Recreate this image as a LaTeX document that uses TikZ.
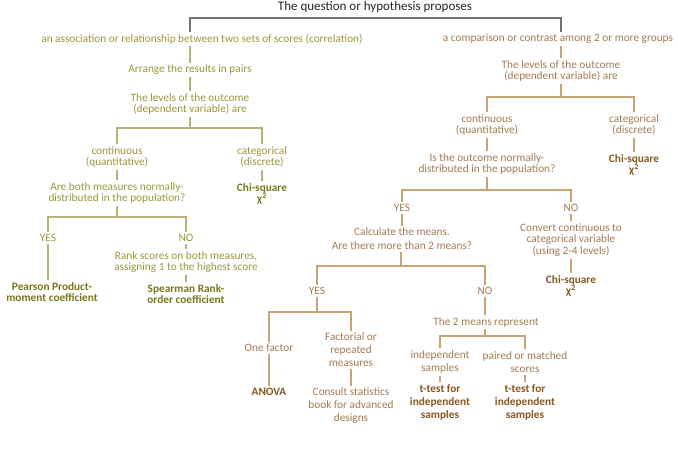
\documentclass[tikz,border=0pt]{standalone}
\usepackage{fontspec}
\setmainfont{Carlito}
\usepackage{xcolor}
\usepackage{tikz}
\usetikzlibrary{calc}
\definecolor{olivetext}{HTML}{9C963A}
\definecolor{olivebold}{HTML}{7A7518}
\definecolor{oliveline}{HTML}{B8B278}
\definecolor{browntext}{HTML}{A27A52}
\definecolor{brownbold}{HTML}{85561E}
\definecolor{brownline}{HTML}{C9A275}
\tikzset{
  every node/.style={font=\fontsize{11.3}{11.6}\selectfont, align=center, inner sep=2pt},
  otext/.style={text=olivetext},
  obold/.style={text=olivebold, font=\fontsize{11.3}{11.6}\selectfont\bfseries},
  oline/.style={draw=oliveline, line width=1.2pt},
  btext/.style={text=browntext},
  bbold/.style={text=brownbold, font=\fontsize{11.3}{11.6}\selectfont\bfseries},
  bline/.style={draw=brownline, line width=1.2pt},
  topline/.style={draw=black!55, line width=1.2pt}
}

\begin{document}
\begin{tikzpicture}[x=1pt, y=-1pt]
\useasboundingbox (0,0) rectangle (678,454);

% 1. Question
\node[font=\fontsize{13}{14}\selectfont, text=black!85] (title) at (375,7) {The question or hypothesis proposes};
\coordinate (j0) at (375,18);

% 2. Correlation branch
\node[otext] (assoc) at (202,39) {an association or relationship between two sets of scores (correlation)};
\node[otext] (pairs) at (190,70) {Arrange the results in pairs};
\node[otext] (levL) at (190,104) {The levels of the outcome\\(dependent variable) are};
\coordinate (jL1) at (190,128);
\node[otext] (contL) at (117,157) {continuous\\(quantitative)};
\node[otext] (catL) at (262,157) {categorical\\(discrete)};
\node[otext] (normL) at (117,193) {Are both measures normally-\\distributed in the population?};
\node[obold] (chiL) at (262,194) {Chi-square\\χ\textsuperscript{2}};
\coordinate (jL2) at (117,217);
\node[otext] (yesL) at (48,238) {YES};
\node[otext] (noL) at (186,238) {NO};
\node[obold] (pearson) at (52,292) {Pearson Product-\\moment coefficient};
\node[otext] (rankL) at (186,262) {Rank scores on both measures,\\assigning 1 to the highest score};
\node[obold] (spear) at (186,294) {Spearman Rank-\\order coefficient};

% 3. Comparison branch
\node[btext] (compare) at (558,39) {a comparison or contrast among 2 or more groups};
\node[btext] (levR) at (561,71) {The levels of the outcome\\(dependent variable) are};
\coordinate (jR1) at (561,97);
\node[btext] (contR) at (487,125) {continuous\\(quantitative)};
\node[btext] (catR) at (634,125) {categorical\\(discrete)};
\node[btext] (normR) at (487,164) {Is the outcome normally-\\distributed in the population?};
\node[bbold] (chiR) at (634,165) {Chi-square\\χ\textsuperscript{2}};
\coordinate (jR2) at (487,190);
\node[btext] (yesR) at (402,208) {YES};
\node[btext] (noR) at (571,208) {NO};
\node[btext, font=\fontsize{11.3}{14}\selectfont] (means) at (402,239) {Calculate the means.\\Are there more than 2 means?};
\node[btext] (convert) at (571,240) {Convert continuous to\\categorical variable\\(using 2-4 levels)};
\node[bbold] (chiR2) at (571,286) {Chi-square\\χ\textsuperscript{2}};
\coordinate (jR3) at (401,266);
\node[btext] (yes2) at (317,291) {YES};
\node[btext] (no2) at (485,291) {NO};
\coordinate (jR4) at (317,312);
\node[btext] (onef) at (269,348) {One factor};
\node[btext, font=\fontsize{11.3}{13}\selectfont] (fact) at (351,350) {Factorial or\\repeated\\measures};
\node[bbold] (anova) at (269,392) {ANOVA};
\node[btext, font=\fontsize{11.3}{13}\selectfont] (consult) at (351,406) {Consult statistics\\book for advanced\\designs};
\node[btext] (twomeans) at (486,322) {The 2 means represent};
\coordinate (jR5) at (485,336);
\node[btext, font=\fontsize{11.3}{13}\selectfont] (indep) at (440,362) {independent\\samples};
\node[btext, font=\fontsize{11.3}{13}\selectfont] (paired) at (525,362) {paired or matched\\scores};
\node[bbold, font=\fontsize{11.3}{13}\selectfont\bfseries] (ttest1) at (440,402) {t-test for\\independent\\samples};
\node[bbold, font=\fontsize{11.3}{13}\selectfont\bfseries] (ttest2) at (525,402) {t-test for\\independent\\samples};

% 4. Connections
\draw[topline] (assoc.north -| pairs.north) |- (j0) -| (levR.north |- compare.north);

\draw[oline] (pairs.north |- assoc.south) -- (pairs.north);
\draw[oline] (pairs.south) -- (levL.north);
\draw[oline] (levL.south) -- (jL1);
\draw[oline] (contL.north) |- (jL1) -| (catL.north);
\draw[oline] (contL.south) -- (normL.north);
\draw[oline] (catL.south) -- (catL.south |- chiL.north);
\draw[oline] (normL.south) -- (jL2);
\draw[oline] (yesL.north) |- (jL2) -| (noL.north);
\draw[oline] (yesL.south) -- (yesL.south |- pearson.north);
\draw[oline] (noL.south) -- (rankL.north);
\draw[oline] (rankL.south) -- (spear.north);

\draw[bline] (levR.north |- compare.south) -- (levR.north);
\draw[bline] (levR.south) -- (jR1);
\draw[bline] (contR.north) |- (jR1) -| (catR.north);
\draw[bline] (contR.south) -- (normR.north);
\draw[bline] (catR.south) -- (chiR.north);
\draw[bline] (normR.south) -- (jR2);
\draw[bline] (yesR.north) |- (jR2) -| (noR.north);
\draw[bline] (yesR.south) -- (means.north);
\draw[bline] (noR.south) -- (convert.north);
\draw[bline] (convert.south) -- (chiR2.north);
\draw[bline] (means.south -| jR3) -- (jR3);
\draw[bline] (yes2.north) |- (jR3) -| (no2.north);
\draw[bline] (yes2.south) -- (jR4);
\draw[bline] (onef.north) |- (jR4) -| (fact.north);
\draw[bline] (onef.south) -- (anova.north);
\draw[bline] (fact.south) -- (consult.north);
\draw[bline] (no2.south) -- (no2.south |- twomeans.north);
\draw[bline] (twomeans.south -| jR5) -- (jR5);
\draw[bline] (indep.north) |- (jR5) -| (paired.north);
\draw[bline] (indep.south) -- (ttest1.north);
\draw[bline] (paired.south) -- (ttest2.north);

\end{tikzpicture}
\end{document}
